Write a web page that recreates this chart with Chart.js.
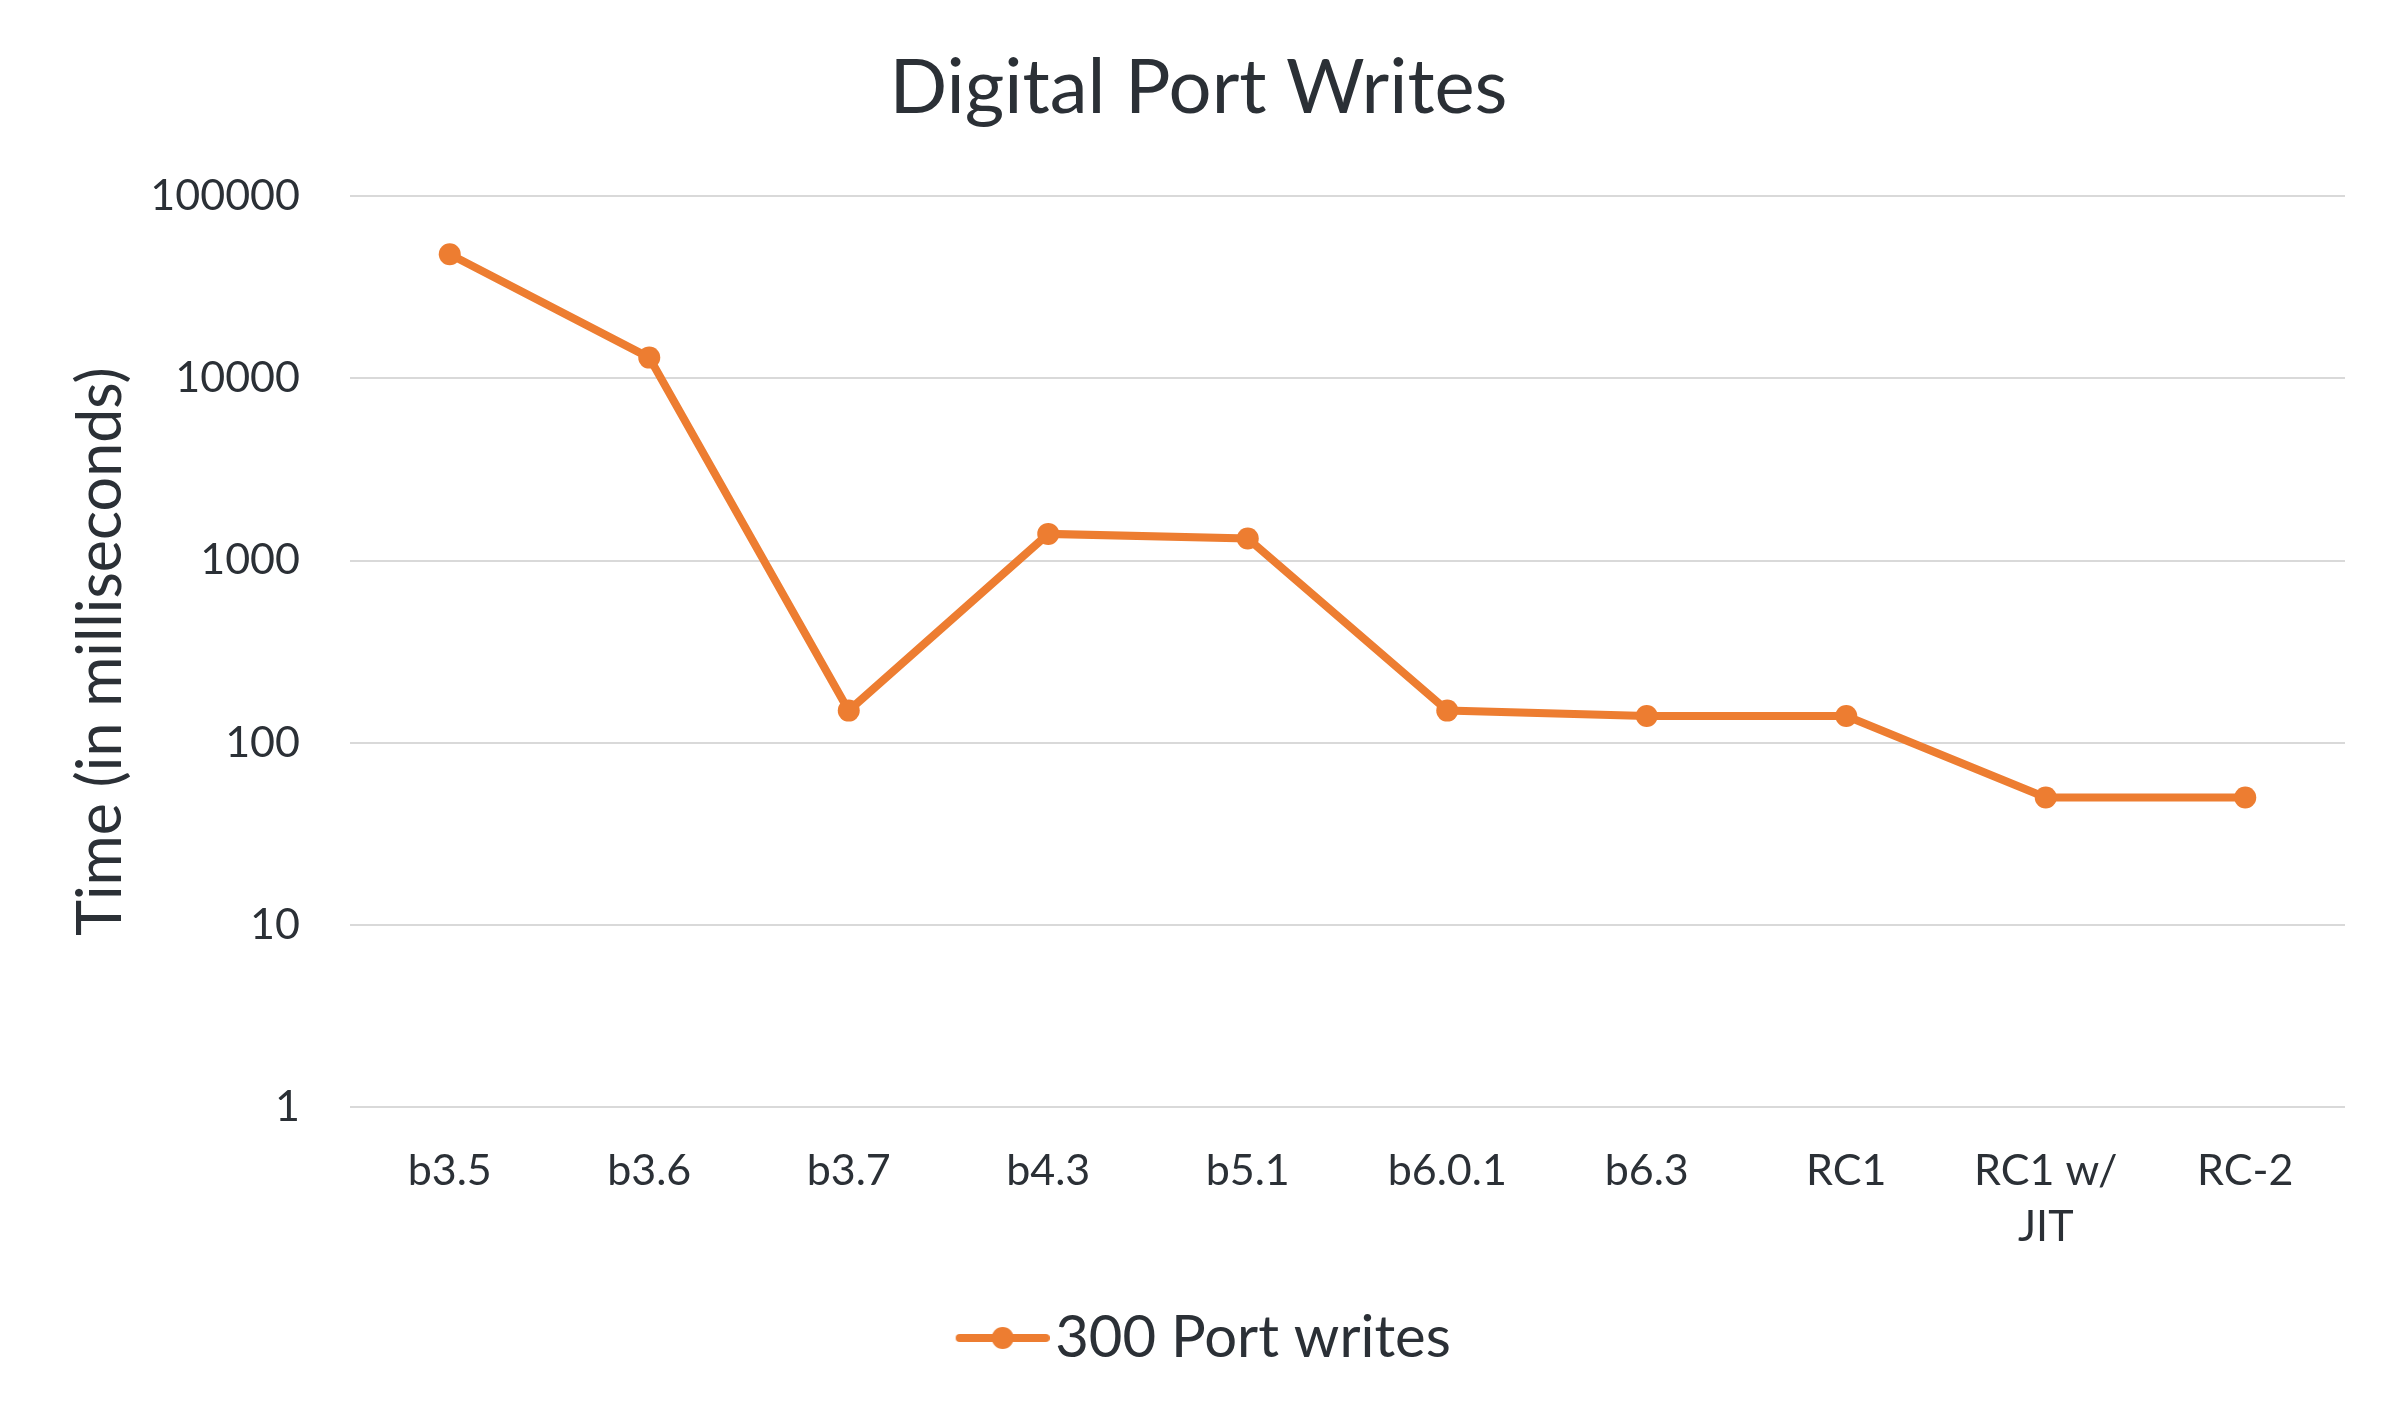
<!DOCTYPE html>
<html>
<head>
<meta charset="utf-8">
<script src="https://cdn.jsdelivr.net/npm/chart.js@4.4.1/dist/chart.umd.min.js"></script>
<style>
  body { margin: 0; background: #fff; }
  canvas { display: block; }
</style>
</head>
<body>
<canvas id="portChart" width="2397" height="1419"></canvas>
<script>
// values (log scale)
const categories = ['b3.5', 'b3.6', 'b3.7', 'b4.3', 'b5.1', 'b6.0.1', 'b6.3', 'RC1', ['RC1 w/', 'JIT'], 'RC-2'];
const portWrites = [48000, 13000, 150, 1400, 1320, 150, 140, 140, 50, 50];
const yTicks = [1, 10, 100, 1000, 10000, 100000];

const ORANGE = '#ED7D31';
const TEXT = '#2B3036';
const FONT = 'Lato';

// legend marker: line with a dot in the middle (left side padded so it sits closer to the text)
const marker = document.createElement('canvas');
marker.width = 127;
marker.height = 26;
(function () {
    const c = marker.getContext('2d');
    const ox = 33;
    c.strokeStyle = ORANGE;
    c.lineWidth = 8;
    c.lineCap = 'round';
    c.beginPath();
    c.moveTo(ox + 4, 13);
    c.lineTo(ox + 90, 13);
    c.stroke();
    c.fillStyle = ORANGE;
    c.beginPath();
    c.arc(ox + 47, 13, 11, 0, Math.PI * 2);
    c.fill();
})();

const ctx = document.getElementById('portChart');
new Chart(ctx, {
    type: 'line',
    data: {
        labels: categories,
        datasets: [{
            label: '300 Port writes',
            data: portWrites,
            borderColor: ORANGE,
            backgroundColor: ORANGE,
            borderWidth: 8,
            pointRadius: 11,
            pointBorderWidth: 0,
            pointBackgroundColor: ORANGE,
            pointStyle: 'circle',
            tension: 0,
        }]
    },
    options: {
        responsive: false,
        animation: false,
        layout: { padding: { left: 0, right: 0, top: 0, bottom: 42 } },
        plugins: {
            title: {
                display: true,
                text: 'Digital Port Writes',
                color: TEXT,
                font: { family: FONT, size: 76, weight: 'normal', lineHeight: 1.2 },
                padding: { top: 43, bottom: 62 },
            },
            legend: {
                position: 'bottom',
                labels: {
                    usePointStyle: true,
                    pointStyle: marker,
                    pointStyleWidth: 80,
                    color: TEXT,
                    font: { family: FONT, size: 58 },
                    padding: 10,
                },
            },
            tooltip: { enabled: false },
        },
        scales: {
            x: {
                offset: true,
                grid: { display: false, drawTicks: false },
                border: { display: false },
                ticks: {
                    color: TEXT,
                    padding: 36,
                    maxRotation: 0,
                    autoSkip: false,
                    font: { family: FONT, size: 43, lineHeight: 1.3 },
                },
                afterFit: (s) => { s.height = 192; },
            },
            y: {
                type: 'logarithmic',
                min: 1,
                max: 100000,
                afterBuildTicks: (s) => { s.ticks = yTicks.map(v => ({ value: v })); },
                grid: { color: '#D9D9D9', lineWidth: 2, drawTicks: false },
                border: { display: false },
                ticks: {
                    color: TEXT,
                    padding: 50,
                    font: { family: FONT, size: 43 },
                    callback: (v) => String(v),
                },
                title: {
                    display: true,
                    text: 'Time (in milliseconds)',
                    color: TEXT,
                    font: { family: FONT, size: 61, weight: 'normal', lineHeight: 1.2 },
                    padding: { top: 65, bottom: 0 },
                },
                afterFit: (s) => { s.width = 350; },
            },
            // empty right-hand margin, keeps title and legend centred on the canvas
            yRight: {
                position: 'right',
                display: true,
                grid: { display: false, drawTicks: false },
                border: { display: false },
                ticks: { display: false },
                afterFit: (s) => { s.width = 52; },
            },
        },
    },
});
</script>
</body>
</html>
